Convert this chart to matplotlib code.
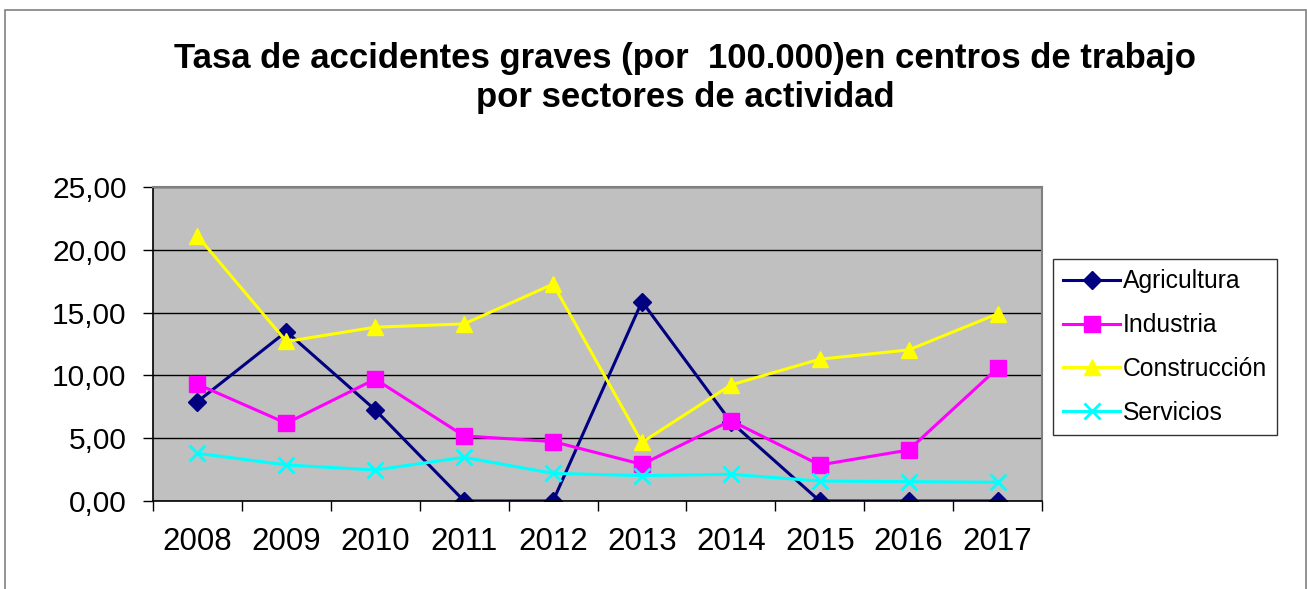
import numpy as np
import matplotlib.pyplot as plt
from matplotlib.patches import Rectangle
from matplotlib.ticker import FuncFormatter

years = ['2008', '2009', '2010', '2011', '2012', '2013', '2014', '2015', '2016', '2017']
agricultura = [7.91, 13.49, 7.25, 0.0, 0.0, 15.88, 6.30, 0.0, 0.0, 0.0]
industria = [9.30, 6.19, 9.70, 5.18, 4.73, 2.92, 6.40, 2.87, 4.06, 10.57]
construccion = [21.10, 12.70, 13.84, 14.10, 17.27, 4.67, 9.24, 11.29, 12.03, 14.90]
servicios = [3.80, 2.87, 2.47, 3.48, 2.20, 2.02, 2.13, 1.59, 1.54, 1.49]

plt.rcParams['font.family'] = ['Liberation Sans', 'DejaVu Sans']

fig = plt.figure(figsize=(13.07, 5.89), dpi=100)
ax = fig.add_axes([153 / 1307, 1 - 501 / 589, (1042 - 153) / 1307, (501 - 187) / 589])

# outer chart border
fig.patches.append(Rectangle((5 / 1307, -0.05), 1301 / 1307, 1.05 - 10 / 589,
                             transform=fig.transFigure, fill=False,
                             edgecolor='#808080', linewidth=1.2))

x = np.arange(len(years))
ax.set_facecolor('#C0C0C0')
ax.plot(x, agricultura, color='#000080', marker='D', markersize=9, linewidth=2.2, label='Agricultura')
ax.plot(x, industria, color='#FF00FF', marker='s', markersize=11, linewidth=2.2, label='Industria')
ax.plot(x, construccion, color='#FFFF00', marker='^', markersize=12, linewidth=2.2, label='Construcción')
ax.plot(x, servicios, color='#00FFFF', marker='x', markersize=11, markeredgewidth=2, linewidth=2.2, label='Servicios')

ax.set_xlim(-0.5, len(years) - 0.5)
ax.set_ylim(0, 25)
ax.set_yticks(np.arange(0, 26, 5))
ax.yaxis.set_major_formatter(FuncFormatter(lambda v, p: f'{v:.2f}'.replace('.', ',')))
ax.set_xticks(x)
ax.set_xticklabels(years)
ax.set_xticks(np.arange(-0.5, len(years), 1), minor=True)
ax.tick_params(axis='x', which='major', length=0, labelsize=22.5, pad=19)
ax.tick_params(axis='x', which='minor', length=7, width=1, direction='out')
ax.tick_params(axis='y', length=7, width=1, direction='out', labelsize=21.5, pad=12)
ax.grid(axis='y', color='black', linewidth=1)
ax.set_axisbelow(True)

for side in ['top', 'right']:
    ax.spines[side].set_color('#808080')
    ax.spines[side].set_linewidth(1.5)
for side in ['left', 'bottom']:
    ax.spines[side].set_color('black')
    ax.spines[side].set_linewidth(1.2)

fig.text(685 / 1307, 1 - 78 / 589, 'Tasa de accidentes graves (por  100.000)en centros de trabajo\npor sectores de actividad',
         ha='center', va='center', fontsize=25, fontweight='bold', linespacing=1.22)

leg = fig.legend(loc='upper left', bbox_to_anchor=(1053 / 1307, 1 - 259 / 589),
                 fontsize=17.8, frameon=True, fancybox=False, edgecolor='black',
                 borderpad=0.42, labelspacing=0.8, handlelength=2.3, handletextpad=0.1,
                 borderaxespad=0)
leg.get_frame().set_linewidth(1)

fig.savefig('out.png', dpi=100)
